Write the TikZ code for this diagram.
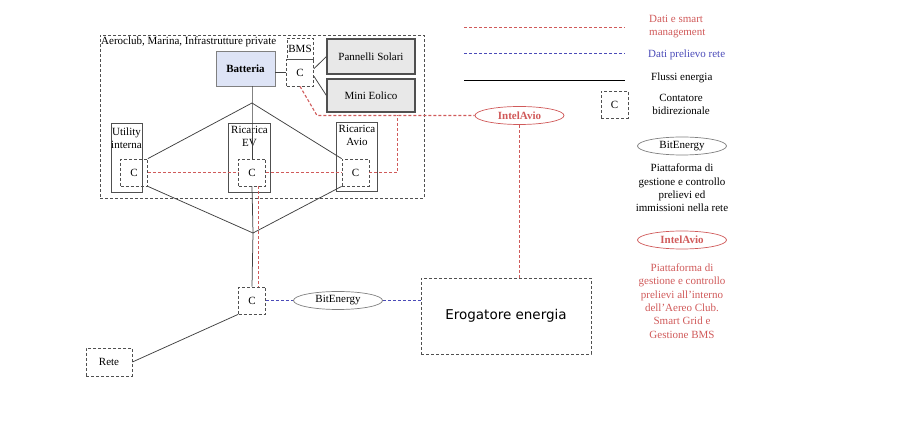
\documentclass[tikz,border=0pt]{standalone}
\usepackage{fontspec}
\setmainfont{Liberation Serif}
\newfontfamily\erogfont{DejaVu Sans}
\usepackage{tikz}
\usetikzlibrary{positioning,shapes.geometric}
\definecolor{datired}{HTML}{D05A5A}
\definecolor{reteblue}{HTML}{4A4AB8}
\definecolor{boxgray}{HTML}{505050}
\definecolor{batblue}{HTML}{DEE4F6}
\definecolor{genfill}{HTML}{E8E8E8}
\tikzset{
  dashbox/.style={
    rectangle, draw=boxgray, line width=0.8pt,
    dash pattern=on 3pt off 2pt, inner sep=0pt
  },
  meterbox/.style={
    dashbox, minimum width=27pt, minimum height=27pt,
    font=\fontsize{11}{12}\selectfont
  },
  loadbox/.style={
    rectangle, draw=boxgray, line width=0.8pt, inner sep=0pt,
    minimum width=#1, minimum height=69pt
  },
  loadbox/.default=41pt,
  genbox/.style={
    rectangle, draw=boxgray, line width=1.2pt, fill=genfill,
    minimum width=88pt, font=\fontsize{11}{12}\selectfont
  },
  platform/.style={
    ellipse, draw=#1, line width=0.7pt, inner sep=0pt,
    minimum width=89pt, minimum height=18pt,
    font=\fontsize{11}{12}\selectfont
  },
  platform/.default=gray,
  flow/.style={draw=black!75, line width=0.75pt},
  smartdata/.style={draw=datired, line width=1.1pt, dash pattern=on 3pt off 2pt},
  retedata/.style={draw=reteblue, line width=1.1pt, dash pattern=on 3pt off 2pt},
  txt/.style={font=\fontsize{11}{13}\selectfont, inner sep=0pt, align=center},
}

\begin{document}
\begin{tikzpicture}[x=1pt, y=-1pt]
  \useasboundingbox (0,0) rectangle (900,427);

  % Aeroclub area
  \node[dashbox, minimum width=324pt, minimum height=163pt] (club) at (262,116.5) {};
  \node[txt, anchor=north west] (clublbl) at (101,37) {Aeroclub, Marina, Infrastrutture private};

  \node[rectangle, draw=gray, line width=0.8pt, fill=batblue, minimum width=59pt,
    minimum height=35pt, font=\bfseries\fontsize{11}{12}\selectfont] (bat) at (245.5,68.5) {Batteria};
  \node[dashbox, minimum width=26pt, minimum height=21pt,
    font=\fontsize{11}{12}\selectfont] (bms) at (300,48.5) {BMS};
  \node[meterbox] (cbms) at (300,72.5) {C};
  \node[genbox, minimum height=35pt] (sol) at (371,56.5) {Pannelli Solari};
  \node[genbox, minimum height=33pt] (eol) at (371,95.5) {Mini Eolico};

  \coordinate (hubtop) at (252,103);
  \coordinate (hubbot) at (253,233);

  % loads
  \node[loadbox=31pt] (ut) at (126.5,158) {};
  \node[txt, below=5pt of ut.north] (utlbl) {Utility\\interna};
  \node[meterbox] (cut) at (134,172.5) {C};
  \node[loadbox=42pt] (ev) at (249.5,157.5) {};
  \node[txt, below=3pt of ev.north] (evlbl) {Ricarica\\EV};
  \node[meterbox] (cev) at (252,172.5) {C};
  \node[loadbox=41pt] (av) at (357,157) {};
  \node[txt, below=3pt of av.north] (avlbl) {Ricarica\\Avio};
  \node[meterbox] (cav) at (355.5,172.5) {C};

  % grid side
  \node[meterbox] (cgrid) at (252,300.5) {C};
  \node[dashbox, minimum width=46pt, minimum height=28pt, txt] (rete) at (109,362) {Rete};
  \node[platform] (bit) at (338,300.5) {BitEnergy};
  \node[dashbox, minimum width=170pt, minimum height=76pt,
    font=\erogfont\fontsize{13.5}{15}\selectfont] (erog) at (506,316) {Erogatore energia};
  \node[platform=datired, text=datired, font=\bfseries\fontsize{11}{12}\selectfont] (intel) at (519.5,115.5) {IntelAvio};

  % energy flows
  \draw[flow] (bat.east |- cbms.west) -- (cbms.west);
  \draw[flow] (cbms.15) -- (sol.west);
  \draw[flow] (cbms.-15) -- (eol.west);
  \draw[flow] (hubtop |- bat.south) -- (hubtop) -- (cev.north);
  \draw[flow] (hubtop) -- (cut.north east);
  \draw[flow] (hubtop) -- (cav.north west);
  \draw[flow] (cev.south) -- (hubbot) -- (cgrid.north);
  \draw[flow] (cut.south east) -- (hubbot);
  \draw[flow] (cav.south west) -- (hubbot);
  \draw[flow] (rete.east) -- (cgrid.south west);

  % smart data
  \coordinate (dknee) at (317,115.5);
  \coordinate (dbend) at (397.5,115.5);
  \draw[smartdata] (cut.east) -- (cev.west);
  \draw[smartdata] (cev.east) -- (cav.west);
  \draw[smartdata] (cav.east) -| (dbend);
  \draw[smartdata] (cbms.south) -- (dknee) -- (intel.west);
  \draw[smartdata] ([xshift=6.5pt]cev.south) -- ([xshift=6.5pt]cgrid.north);
  \draw[smartdata] (intel.south) -- (intel.south |- erog.north);

  % grid data
  \draw[retedata] (cgrid.east) -- (bit.west);
  \draw[retedata] (bit.east) -- (bit.east -| erog.west);

  % Legend
  \coordinate (la1) at (464,27.5);  \coordinate (lb1) at (625,27.5);
  \coordinate (la2) at (464,53.5);  \coordinate (lb2) at (625,53.5);
  \coordinate (la3) at (464,80);  \coordinate (lb3) at (625,80);
  \draw[smartdata] (la1) -- (lb1);
  \draw[retedata] (la2) -- (lb2);
  \draw[flow, draw=black] (la3) -- (lb3);
  \node[txt, text=datired, anchor=west, align=left] (leg1) at (649,27) {Dati e smart\\management};
  \node[txt, text=reteblue, anchor=west] (leg2) at (648,55) {Dati prelievo rete};
  \node[txt, anchor=west] (leg3) at (651,78) {Flussi energia};
  \node[meterbox] (legc) at (614.5,105) {C};
  \node[txt] (leg4) at (681,104) {Contatore\\bidirezionale};
  \node[platform] (legbit) at (682,146) {BitEnergy};
  \node[txt, font=\fontsize{11}{13.3}\selectfont] (legbittxt) at (682,188)
    {Piattaforma di\\gestione e controllo\\prelievi ed\\immissioni nella rete};
  \node[platform=datired, text=datired, font=\bfseries\fontsize{11}{12}\selectfont] (legintel) at (682,240) {IntelAvio};
  \node[txt, text=datired, font=\fontsize{11}{13.4}\selectfont] (legintxt) at (682,301)
    {Piattaforma di\\gestione e controllo\\prelievi all'interno\\dell'Aereo Club.\\Smart Grid e\\Gestione BMS};
\end{tikzpicture}
\end{document}
